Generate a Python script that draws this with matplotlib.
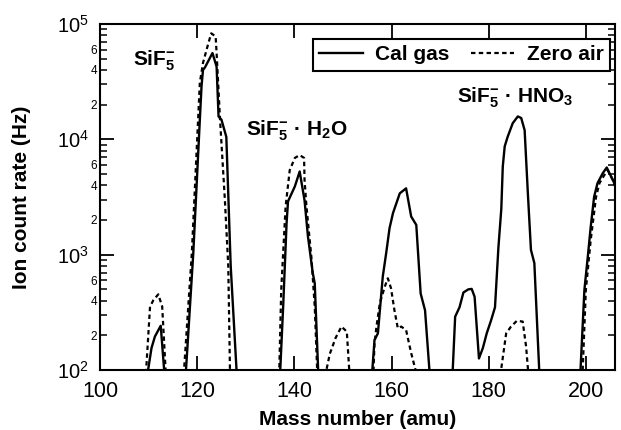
import matplotlib
matplotlib.use("Agg")
import matplotlib.pyplot as plt
from matplotlib.ticker import LogLocator, FuncFormatter, FixedLocator
import numpy as np

plt.rcParams['font.family'] = ['Liberation Sans', 'DejaVu Sans']
plt.rcParams['mathtext.fontset'] = 'custom'
plt.rcParams['mathtext.rm'] = 'Liberation Sans'
plt.rcParams['mathtext.bf'] = 'Liberation Sans:bold'
plt.rcParams['mathtext.it'] = 'Liberation Sans:italic'

# Cal gas (solid)
cal_mass = [100, 109.9, 110.6, 111.3, 112.5, 113.2, 115,
            117.7, 119.2, 120.55, 120.9, 121.2, 121.6, 123.15, 124.0, 124.4, 125.0, 126.0, 126.9, 128.1, 132,
            137.1, 137.7, 138.4, 138.7, 140.1, 141.1, 142.1, 142.8, 143.8, 144.2, 144.9, 150,
            156.05, 156.5, 157.2, 158.2, 158.9, 159.6, 160.3, 161.7, 163.0, 164.05, 165.1, 166.0, 166.9, 167.8, 170,
            172.6, 173.1, 174.0, 174.8, 175.8, 176.5, 177.1, 177.5, 178.0, 178.8, 179.6, 180.5, 181.3, 182.0,
            182.6, 182.9, 183.3, 183.9, 184.95, 186.0, 186.7, 187.4, 188.05, 188.7, 189.4, 190.4, 193,
            198.9, 199.7, 200.4, 201.0, 201.7, 202.4, 203.5, 204.3, 205.2, 206.2, 207]
cal_rate = [50, 100, 155, 195, 242, 100, 50,
            100, 1030, 14800, 29000, 40000, 42000, 56000, 42600, 15800, 14800, 10500, 800, 100, 50,
            100, 355, 1870, 2900, 3900, 5260, 2960, 1440, 690, 565, 100, 50,
            100, 182, 208, 645, 1030, 1700, 2290, 3400, 3760, 2140, 1810, 460, 330, 100, 50,
            100, 290, 350, 470, 500, 505, 432, 250, 126, 155, 208, 270, 350, 1150,
            2500, 5800, 8700, 10500, 13800, 15800, 15300, 12000, 3500, 1100, 845, 100, 50,
            100, 495, 960, 1740, 3170, 4170, 5100, 5700, 4750, 3900, 3000]

# Zero air (dotted)
zero_mass = [100, 109.5, 110.3, 111.0, 112.0, 112.8, 113.5, 115,
             117.3, 118.9, 120.55, 121.2, 122.3, 122.9, 123.8, 124.0, 124.7, 125.7, 126.4, 126.75, 132,
             136.9, 137.3, 138.2, 139.05, 140.1, 141.1, 142.0, 142.1, 142.5, 143.5, 144.2, 144.7, 145.6,
             146.6, 147.3, 148.5, 149.7, 150.8, 151.3, 154,
             156.3, 156.5, 156.9, 157.6, 158.6, 159.25, 159.9, 160.6, 161.3, 162.0, 163.0, 164.05, 164.95, 170,
             182.55, 183.6, 184.6, 185.8, 187.0, 187.7, 188.1, 193,
             199.35, 200.0, 201.0, 202.1, 202.8, 203.8, 204.5, 205.5, 207]
zero_rate = [50, 100, 355, 404, 453, 355, 100, 50,
             100, 1030, 31000, 46000, 68000, 83000, 78000, 56000, 15000, 3000, 800, 100, 50,
             100, 495, 2600, 5400, 6900, 7300, 6900, 4450, 2600, 960, 355, 100, 50,
             100, 138, 190, 238, 215, 100, 50,
             100, 170, 237, 380, 526, 624, 511, 330, 230, 238, 222, 140, 100, 50,
             100, 208, 238, 267, 263, 160, 100, 50,
             100, 495, 1340, 3170, 4170, 4900, 5400, 4500, 3000]

x_ticks = [100, 120, 140, 160, 180, 200]

fig = plt.figure(figsize=(6.21, 4.30), dpi=100)
ax = fig.add_axes([100/621, 60/430, 515/621, 346/430])

ax.plot(cal_mass, cal_rate, color='black', lw=1.7, ls='-', label='Cal gas')
ax.plot(zero_mass, zero_rate, color='black', lw=1.6, ls=(0, (2.0, 1.5)), label='Zero air')

ax.set_yscale('log')
ax.set_xlim(100, 206)
ax.set_ylim(100, 1e5)

ax.xaxis.set_major_locator(FixedLocator(x_ticks))
ax.xaxis.set_minor_locator(FixedLocator([]))
ax.yaxis.set_major_locator(LogLocator(base=10, numticks=10))
ax.yaxis.set_minor_locator(LogLocator(base=10, subs=np.arange(2, 10), numticks=20))

def major_fmt(v, pos):
    e = int(round(np.log10(v)))
    return r'$10^{%d}$' % e

def minor_fmt(v, pos):
    e = np.floor(np.log10(v) + 1e-9)
    m = int(round(v / 10**e))
    return str(m) if m in (2, 4, 6) else ''

ax.yaxis.set_major_formatter(FuncFormatter(major_fmt))
ax.yaxis.set_minor_formatter(FuncFormatter(minor_fmt))

ax.tick_params(axis='both', which='major', direction='in', length=10, width=1.3,
               top=True, right=True)
ax.tick_params(axis='x', which='major', labelsize=15.5, pad=8)
ax.tick_params(axis='y', which='major', labelsize=14.5, pad=8)
ax.tick_params(axis='y', which='minor', direction='in', length=5, width=1.1,
               right=True, labelsize=8.5, pad=2)

for s in ax.spines.values():
    s.set_linewidth(1.5)

ax.set_xlabel('Mass number (amu)', fontsize=15, fontweight='bold', labelpad=6)
ax.set_ylabel('Ion count rate (Hz)', fontsize=15, fontweight='bold')
ax.yaxis.set_label_coords(-0.134, 0.5)

ax.text(106.8, 4.4e4, r'$\mathbf{SiF}_{\mathbf{5}}^{\mathbf{-}}$', fontsize=15)
ax.text(130.1, 1.09e4, r'$\mathbf{SiF}_{\mathbf{5}}^{\mathbf{-}}\mathbf{\ ·\ H}_{\mathbf{2}}\mathbf{O}$', fontsize=15)
ax.text(173.4, 2.1e4, r'$\mathbf{SiF}_{\mathbf{5}}^{\mathbf{-}}\mathbf{\ ·\ HNO}_{\mathbf{3}}$', fontsize=15)

leg = ax.legend(loc='upper right', bbox_to_anchor=(1 - 5/515, 1 - 15/346), ncol=2,
                frameon=True, fancybox=False, framealpha=1, edgecolor='black',
                prop={'weight': 'bold', 'size': 15}, handlelength=2.1,
                columnspacing=1.0, handletextpad=0.6, borderaxespad=0, borderpad=0.3)
leg.get_frame().set_linewidth(1.5)

fig.savefig('out.png', dpi=100)
